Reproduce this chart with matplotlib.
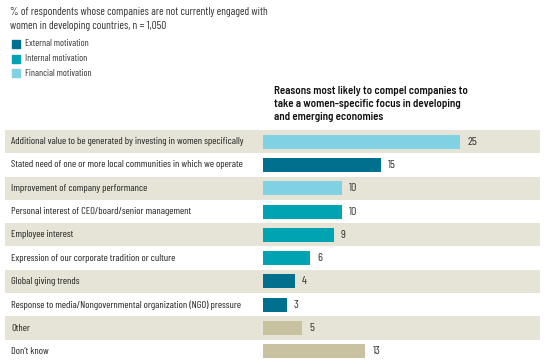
import matplotlib
matplotlib.use("Agg")
import matplotlib.pyplot as plt
from matplotlib.patches import Rectangle

categories = [
    "Additional value to be generated by investing in women specifically",
    "Stated need of one or more local communities in which we operate",
    "Improvement of company performance",
    "Personal interest of CEO/board/senior management",
    "Employee interest",
    "Expression of our corporate tradition or culture",
    "Global giving trends",
    "Response to media/Nongovernmental organization (NGO) pressure",
    "Other",
    "Don\u2019t know",
]
values = [25, 15, 10, 10, 9, 6, 4, 3, 5, 13]
groups = ["Financial", "External", "Financial", "Internal", "Internal",
          "Internal", "External", "External", "Other", "Other"]
legend_labels = ["External motivation", "Internal motivation", "Financial motivation"]

colors = {"External": "#00708f", "Internal": "#00a3b2",
          "Financial": "#80d2e2", "Other": "#c8c2a0"}
band = "#e6e4d6"

NARROW = ['Barlow Condensed', 'DejaVu Sans']
BOLD = ['Barlow Semi Condensed', 'DejaVu Sans']
plt.rcParams['font.family'] = NARROW

W, H = 545, 363
fig = plt.figure(figsize=(W/100, H/100), dpi=100)

def fx(px): return px / W
def fy(py): return 1 - py / H

# header
fig.text(fx(10), fy(19), "% of respondents whose companies are not currently engaged with\nwomen in developing countries, n = 1,050",
         fontsize=8.1, color="#333333", va="center", ha="left", linespacing=1.5)
leg_keys = ["External", "Internal", "Financial"]
for i, (k, lab) in enumerate(zip(leg_keys, legend_labels)):
    yc = 44 + i * 14.5
    fig.patches.append(Rectangle((fx(12), fy(yc + 4)), fx(8), 8 / H,
                                 transform=fig.transFigure, color=colors[k]))
    fig.text(fx(25), fy(yc), lab, fontsize=6.9, color="#333333", va="center", ha="left")

fig.text(fx(274), fy(104), "Reasons most likely to compel companies to\ntake a women-specific focus in developing\nand emerging economies",
         fontsize=7.9, fontweight="semibold", family=BOLD, color="#111111",
         va="center", ha="left", linespacing=1.38)

# plot area
left_px, right_px = 5, 540
top_px, bot_px = 130, 363
ax = fig.add_axes([fx(left_px), fy(bot_px), (right_px - left_px) / W, (bot_px - top_px) / H])
scale = 7.88
x0 = 263
ax.set_xlim(-(x0 - left_px) / scale, (right_px - x0) / scale)
n = len(categories)
ax.set_ylim(n - 0.5, -0.5)
ax.axis("off")

for i, (c, v, g) in enumerate(zip(categories, values, groups)):
    if i % 2 == 0:
        ax.axhspan(i - 0.5, i + 0.5, color=band, lw=0, zorder=0)
    ax.barh(i, v, height=0.6, color=colors[g], zorder=2)
    ax.text(v + 0.9, i, str(v), fontsize=8.6, color="#333333", va="center", ha="left")
    ax.text(-(x0 - 11) / scale, i, c, fontsize=7.4, color="#222222", va="center", ha="left")

fig.savefig("out.png", dpi=100, facecolor="white")
